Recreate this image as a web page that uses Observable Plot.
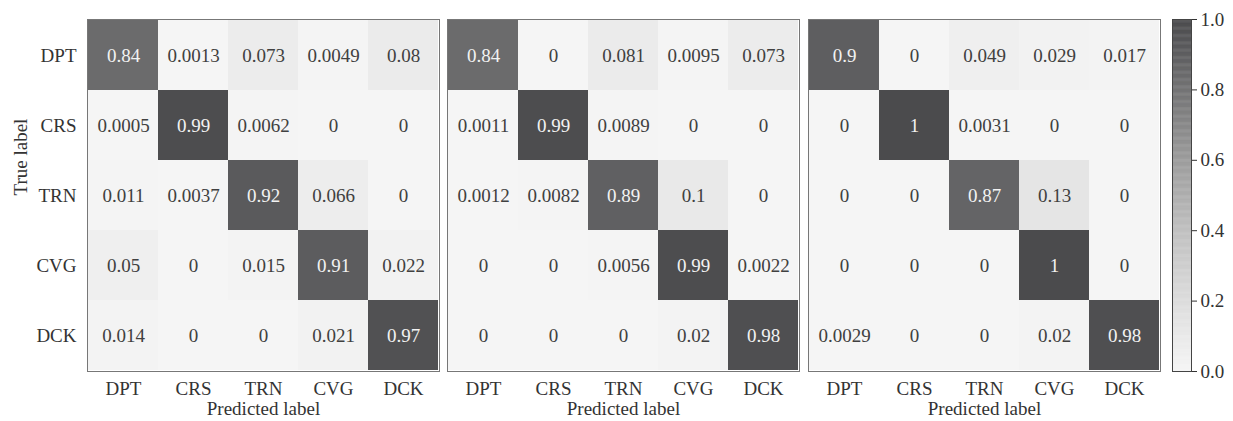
<!DOCTYPE html>
<html>
<head>
<meta charset="utf-8">
<script src="https://cdn.jsdelivr.net/npm/d3@7"></script>
<script src="https://cdn.jsdelivr.net/npm/@observablehq/plot@0.6"></script>
<style>
  html, body { margin: 0; padding: 0; background: #fff; }
  #chart { position: relative; width: 1233px; height: 421px; overflow: hidden; }
  #chart svg { position: absolute; top: 0; background: transparent; }
</style>
</head>
<body>
<div id="chart"></div>
<script>
const labels = ["DPT", "CRS", "TRN", "CVG", "DCK"];
const matrix1 = [
  [0.84, 0.0013, 0.073, 0.0049, 0.08],
  [0.0005, 0.99, 0.0062, 0, 0],
  [0.011, 0.0037, 0.92, 0.066, 0],
  [0.05, 0, 0.015, 0.91, 0.022],
  [0.014, 0, 0, 0.021, 0.97]
];
const matrix2 = [
  [0.84, 0, 0.081, 0.0095, 0.073],
  [0.0011, 0.99, 0.0089, 0, 0],
  [0.0012, 0.0082, 0.89, 0.1, 0],
  [0, 0, 0.0056, 0.99, 0.0022],
  [0, 0, 0, 0.02, 0.98]
];
const matrix3 = [
  [0.9, 0, 0.049, 0.029, 0.017],
  [0, 1, 0.0031, 0, 0],
  [0, 0, 0.87, 0.13, 0],
  [0, 0, 0, 1, 0],
  [0.0029, 0, 0, 0.02, 0.98]
];
const colorTicks = [0, 0.2, 0.4, 0.6, 0.8, 1.0];
const xLabel = "Predicted label";
const yLabel = "True label";

// grey ramp
const rampStops = [0, 0.1, 0.2, 0.4, 0.6, 0.8, 0.9, 1.0];
const rampGreys = ["#f5f5f5", "#e9e9e9", "#dcdcdc", "#c0c0c0", "#9c9c9c", "#737374", "#5e5e60", "#4b4b4d"];

const FONT = "'Liberation Serif', 'DejaVu Serif', Times, serif";
const FS = 19;
const ramp = d3.scaleLinear().domain(rampStops).range(rampGreys).interpolate(d3.interpolateRgb).clamp(true);
const colorScale = {type: "linear", domain: [0, 1], interpolate: t => ramp(t)};

function toCells(m) {
  const cells = [];
  m.forEach((row, i) => row.forEach((v, j) => cells.push({t: labels[i], p: labels[j], v})));
  return cells;
}

const chart = document.getElementById("chart");
const H = 421, MT = 19, MB = 50, CELL = 352;

function panel(m, left, withY) {
  const ml = withY ? 87 : 5, mr = 5;
  const cells = toCells(m);
  const marks = [
    Plot.cell(cells, {x: "p", y: "t", fill: "v", inset: 0}),
    Plot.text(cells, {x: "p", y: "t", text: d => String(d.v),
      fill: d => d.v > 0.5 ? "#f2f2f2" : "#404040", fontSize: FS}),
    Plot.frame({stroke: "#777", strokeWidth: 1}),
    Plot.axisX({tickSize: 0, tickPadding: 10, fontSize: FS, label: null, color: "#333"}),
    Plot.text([xLabel], {frameAnchor: "bottom", dy: 43, fontSize: FS, fill: "#333"})
  ];
  if (withY) {
    marks.push(Plot.axisY({tickSize: 0, tickPadding: 11, fontSize: FS, label: null, color: "#333"}));
    marks.push(Plot.text([yLabel], {frameAnchor: "left", dx: -67, rotate: -90, fontSize: FS, fill: "#333"}));
  } else {
    marks.push(Plot.axisY({ticks: [], label: null}));
  }
  const svg = Plot.plot({
    width: CELL + ml + mr, height: H,
    marginLeft: ml, marginRight: mr, marginTop: MT, marginBottom: MB,
    style: {fontFamily: FONT, fontSize: FS + "px", background: "transparent"},
    x: {domain: labels, padding: 0},
    y: {domain: labels, padding: 0},
    color: colorScale,
    marks
  });
  svg.style.left = (left - ml) + "px";
  chart.appendChild(svg);
}

panel(matrix1, 87, true);
panel(matrix2, 447, false);
panel(matrix3, 808, false);

// colorbar
const step = 0.0025;
const grad = d3.range(0, 1, step);
const cbLeft = 1172, cbW = 19, cbML = 5, cbMR = 50;
const cb = Plot.plot({
  width: cbML + cbW + cbMR, height: H,
  marginLeft: cbML, marginRight: cbMR, marginTop: MT, marginBottom: MB,
  style: {fontFamily: FONT, fontSize: FS + "px", background: "transparent"},
  y: {domain: [0, 1]},
  color: colorScale,
  marks: [
    Plot.rectY(grad, {y1: d => d, y2: d => Math.min(1, d + step * 1.5), fill: d => d + step / 2}),
    Plot.frame({stroke: "#444", strokeWidth: 1}),
    Plot.axisY({anchor: "right", ticks: colorTicks, tickFormat: d3.format(".1f"),
      tickSize: 5, tickPadding: 4, fontSize: FS, label: null, color: "#333"})
  ]
});
cb.style.left = (cbLeft - cbML) + "px";
chart.appendChild(cb);
</script>
</body>
</html>
